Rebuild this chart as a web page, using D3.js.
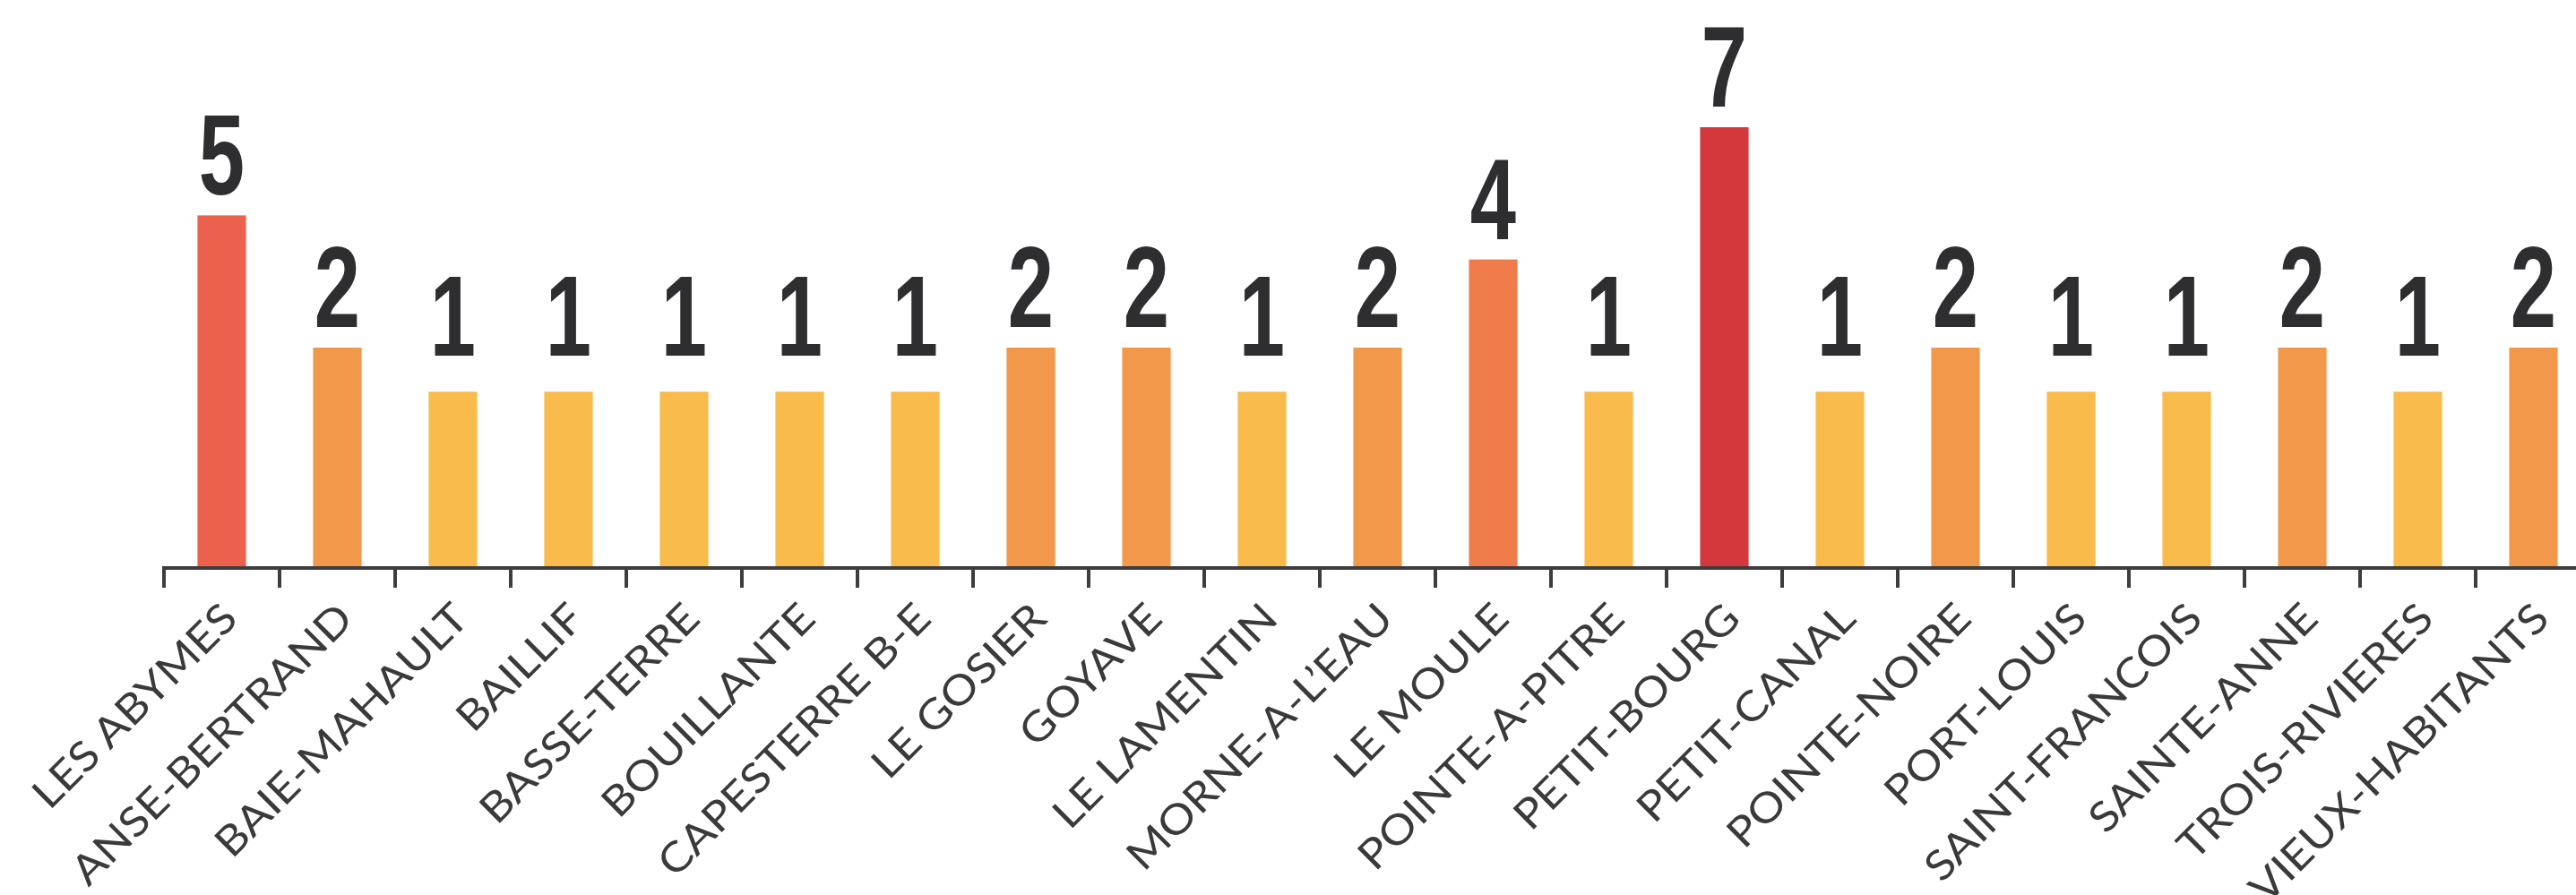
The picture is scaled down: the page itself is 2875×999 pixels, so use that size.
<!DOCTYPE html>
<html>
<head>
<meta charset="utf-8">
<script src="https://cdn.jsdelivr.net/npm/d3@7"></script>
<style>
  html, body { margin: 0; padding: 0; background: #fff; }
  svg { display: block; }
</style>
</head>
<body>
<svg id="chart"></svg>
<script>
const communes = [
  'LES ABYMES', 'ANSE-BERTRAND', 'BAIE-MAHAULT', 'BAILLIF', 'BASSE-TERRE',
  'BOUILLANTE', 'CAPESTERRE B-E', 'LE GOSIER', 'GOYAVE', 'LE LAMENTIN',
  'MORNE-A-L\u2019EAU', 'LE MOULE', 'POINTE-A-PITRE', 'PETIT-BOURG', 'PETIT-CANAL',
  'POINTE-NOIRE', 'PORT-LOUIS', 'SAINT-FRANCOIS', 'SAINTE-ANNE', 'TROIS-RIVIERES',
  'VIEUX-HABITANTS'
];
const counts = [5, 2, 1, 1, 1, 1, 1, 2, 2, 1, 2, 4, 1, 7, 1, 2, 1, 1, 2, 1, 2];

const colorValues = [1, 2, 4, 5, 7];
const colorRange = ['#f9bb4b', '#f2984a', '#ef7c4a', '#ec604e', '#d3393c'];

const opts = {
  width: 2875,
  height: 999,
  left: 183,
  step: 129,
  axisY: 634,
  top: 142,
};

const svg = d3.select('#chart')
  .attr('width', opts.width)
  .attr('height', opts.height);

const x = d3.scaleBand()
  .domain(communes)
  .range([opts.left, opts.left + communes.length * opts.step])
  .paddingInner(0.58)
  .paddingOuter(0.29);

// baseline of the bars sits below zero, as in the source picture
const y = d3.scaleLinear().domain([-3, 7]).range([opts.axisY, opts.top]);
const color = d3.scaleOrdinal().domain(colorValues).range(colorRange);

const rows = communes.map((name, i) => ({ name, value: counts[i] }));

svg.append('g').classed('bars', true)
  .selectAll('rect').data(rows).enter()
  .append('rect')
  .attr('x', d => x(d.name))
  .attr('width', x.bandwidth())
  .attr('y', d => y(d.value))
  .attr('height', d => opts.axisY - y(d.value))
  .attr('fill', d => color(d.value));

const labelGap = v => (v === 1 ? 40 : 23);

svg.append('g').classed('values', true)
  .selectAll('text').data(rows).enter()
  .append('text')
  .attr('transform', d => `translate(${x(d.name) + x.bandwidth() / 2},${y(d.value) - labelGap(d.value)}) scale(0.72,1)`)
  .attr('text-anchor', 'middle')
  .attr('font-family', '"Liberation Sans", Arial, sans-serif')
  .attr('font-weight', 'bold')
  .attr('font-size', 128)
  .attr('fill', '#2e2e30')
  .text(d => d.value);

// axis: line + ticks at band boundaries
const half = x.step() * x.paddingInner() / 2;
const axis = svg.append('g').classed('axis', true);
axis.append('line')
  .attr('x1', opts.left - 2)
  .attr('x2', opts.width)
  .attr('y1', opts.axisY)
  .attr('y2', opts.axisY)
  .attr('stroke', '#3d3d3f')
  .attr('stroke-width', 4);

axis.selectAll('line.tick').data(communes).enter()
  .append('line')
  .classed('tick', true)
  .attr('x1', d => x(d) - half)
  .attr('x2', d => x(d) - half)
  .attr('y1', opts.axisY)
  .attr('y2', opts.axisY + 22)
  .attr('stroke', '#3d3d3f')
  .attr('stroke-width', 4);

const xAxis = d3.axisBottom(x).tickSize(0).tickPadding(0);
const labels = svg.append('g')
  .attr('transform', `translate(0,${opts.axisY})`)
  .call(xAxis);
labels.select('.domain').remove();
labels.selectAll('text')
  .attr('font-family', 'Lato, "Open Sans", sans-serif')
  .attr('font-size', 46)
  .attr('fill', '#3a3a3c')
  .attr('text-anchor', 'end')
  .attr('y', 0)
  .attr('dy', 0)
  .attr('transform', 'translate(20,59) rotate(-45) scale(1.12,1)');
</script>
</body>
</html>
